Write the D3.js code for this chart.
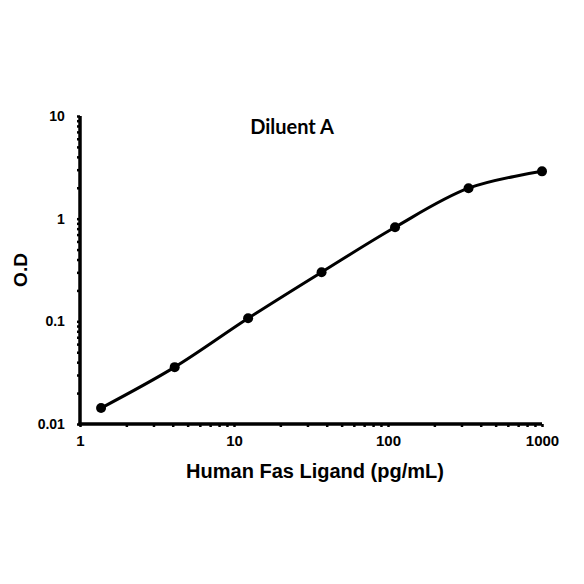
<!DOCTYPE html>
<html>
<head>
<meta charset="utf-8">
<script src="https://cdn.jsdelivr.net/npm/d3@7"></script>
<style>
  body { margin: 0; background: #fff; }
  text { font-family: Arial, "Liberation Sans", sans-serif; font-weight: bold; }
</style>
</head>
<body>
<div id="viz"></div>
<script>
// concentration (pg/mL) and optical density
const conc = [1.37, 4.12, 12.35, 37.04, 111.1, 333.3, 1000];
const od = [0.0143, 0.0358, 0.107, 0.301, 0.825, 1.98, 2.89];
const xTicks = [1, 10, 100, 1000];
const yTicks = [0.01, 0.1, 1, 10];
const chartTitle = 'Diluent A';
const xTitle = 'Human Fas Ligand (pg/mL)';
const yTitle = 'O.D';

const width = 584, height = 584;
const plotLeft = 80, plotRight = 542, plotTop = 116, plotBottom = 424;

const svg = d3.select('#viz').append('svg')
  .attr('width', width)
  .attr('height', height);

const x = d3.scaleLog().domain([1, 1000]).range([plotLeft, plotRight]);
const y = d3.scaleLog().domain([0.01, 10]).range([plotBottom, plotTop]);

// minor ticks every integer step inside each decade
const minorX = [];
for (let d = 1; d < 1000; d *= 10) for (let k = 2; k <= 9; k++) minorX.push(d * k);
const minorY = [];
for (let d = 0.01; d < 10; d *= 10) for (let k = 2; k <= 9; k++) minorY.push(d * k);

const xAxis = svg.append('g')
  .attr('transform', `translate(0,${plotBottom})`)
  .call(d3.axisBottom(x).tickValues(xTicks.concat(minorX)).tickSize(3)
    .tickFormat(d => xTicks.includes(d) ? d3.format('d')(d) : ''));
xAxis.select('.domain').style('stroke-width', '3.5px').attr('d', `M${plotLeft - 1.5},0H${plotRight}`);
xAxis.selectAll('.tick line').style('stroke-width', '2.5px');
xAxis.selectAll('.tick text').style('font-size', '15px').attr('fill', '#000').attr('dy', '1.05em');

const yAxis = svg.append('g')
  .attr('transform', `translate(${plotLeft},0)`)
  .call(d3.axisLeft(y).tickValues(yTicks.concat(minorY)).tickSize(3)
    .tickFormat(d => {
      const v = yTicks.find(t => Math.abs(t - d) / t < 1e-6);
      return v !== undefined ? String(v) : '';
    }));
yAxis.select('.domain').style('stroke-width', '3.5px').attr('d', `M0,${plotTop}V${plotBottom + 1.5}`);
yAxis.selectAll('.tick line').style('stroke-width', '2.5px');
yAxis.selectAll('.tick text').style('font-size', '14px').attr('fill', '#000').attr('dx', '-0.65em');

const pts = conc.map((c, i) => [x(c), y(od[i])]);

svg.append('path')
  .datum(pts)
  .attr('fill', 'none')
  .attr('stroke', '#000')
  .attr('stroke-width', 3)
  .attr('d', d3.line().curve(d3.curveCatmullRom.alpha(0.5)));

svg.selectAll('circle.pt')
  .data(pts)
  .enter()
  .append('circle')
  .attr('class', 'pt')
  .attr('cx', d => d[0])
  .attr('cy', d => d[1])
  .attr('r', 5)
  .attr('fill', '#000');

svg.append('text')
  .attr('x', 292).attr('y', 134)
  .attr('text-anchor', 'middle')
  .style('font-size', '20px')
  .style('font-family', 'Lato, "Open Sans", sans-serif')
  .text(chartTitle);

svg.append('text')
  .attr('x', 315).attr('y', 478)
  .attr('text-anchor', 'middle')
  .style('font-size', '20px')
  .text(xTitle);

svg.append('text')
  .attr('transform', `translate(27,270) rotate(-90)`)
  .attr('text-anchor', 'middle')
  .style('font-size', '19px')
  .text(yTitle);
</script>
</body>
</html>
